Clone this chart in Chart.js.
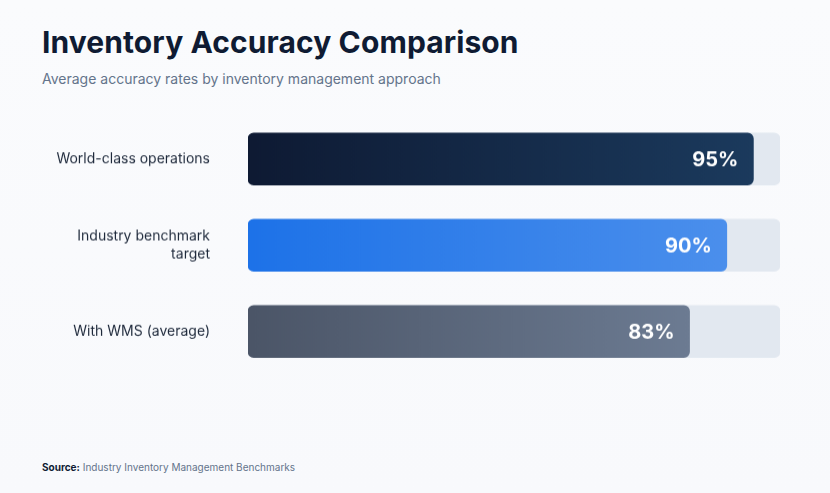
<!DOCTYPE html>
<html>
<head>
<meta charset="utf-8">
<script src="https://cdn.jsdelivr.net/npm/chart.js@4.4.1/dist/chart.umd.min.js"></script>
<style>
  html, body { margin: 0; padding: 0; }
  body {
    width: 830px; height: 493px; overflow: hidden; position: relative;
    background: linear-gradient(180deg, #fafbfd 0%, #f8f9fc 100%);
    font-family: 'Inter', 'Noto Sans', sans-serif;
  }
  h1 {
    position: absolute; left: 42px; top: 24px; margin: 0;
    font-size: 30px; font-weight: 700; color: #0f1b33; letter-spacing: 0.1px;
  }
  .sub {
    position: absolute; left: 42px; top: 70px; margin: 0;
    font-size: 14px; color: #64748b;
  }
  .src {
    position: absolute; left: 42px; top: 461px; margin: 0;
    font-size: 10px; color: #64748b;
  }
  .src b { color: #0f1b33; font-weight: 700; }
  /* the y scale reserves ~47px above and below the plot, so the box is taller */
  #wrap { position: absolute; left: 0; top: 69.25px; width: 830px; height: 351.5px; }
</style>
</head>
<body>
<h1>Inventory Accuracy Comparison</h1>
<p class="sub">Average accuracy rates by inventory management approach</p>
<div id="wrap"><canvas id="barChart"></canvas></div>
<p class="src"><b>Source:</b> Industry Inventory Management Benchmarks</p>

<script>
// ── DATA ──────────────────────────────────────────────────────
const LABELS = [['World-class operations'], ['Industry benchmark', 'target'], ['With WMS (average)']];
const VALUES = [95, 90, 83];
const TRACK  = [100, 100, 100];

// gradient stops per bar (left → right)
const GRADS = [
  ['#0e1a33', '#1b3a5d'],
  ['#1d72e8', '#4b8fec'],
  ['#4b5567', '#6c7b92']
];
const TEXT  = '#1e293b';
const TRACK_COLOR = '#e2e8f0';

// ── VALUE LABELS INSIDE BARS ──────────────────────────────────
const valueLabels = {
  id: 'valueLabels',
  afterDatasetsDraw(chart) {
    const meta = chart.getDatasetMeta(0);
    const ctx = chart.ctx;
    ctx.save();
    ctx.font = "700 20px 'Inter', sans-serif";
    ctx.fillStyle = '#ffffff';
    ctx.textAlign = 'right';
    ctx.textBaseline = 'middle';
    meta.data.forEach((bar, i) => {
      ctx.fillText(VALUES[i] + '%', bar.x - 15, bar.y + 1);
    });
    ctx.restore();
  }
};

function barGradient(context) {
  const chart = context.chart;
  const area = chart.chartArea;
  if (!area) return GRADS[0][0];
  const i = context.dataIndex;
  const end = chart.scales.x.getPixelForValue(VALUES[i]);
  const g = chart.ctx.createLinearGradient(area.left, 0, end, 0);
  g.addColorStop(0, GRADS[i][0]);
  g.addColorStop(1, GRADS[i][1]);
  return g;
}

const ctx = document.getElementById('barChart').getContext('2d');
new Chart(ctx, {
  type: 'bar',
  data: {
    labels: LABELS,
    datasets: [
      {
        label: 'Accuracy',
        data: VALUES,
        backgroundColor: barGradient,
        borderRadius: 6,
        borderSkipped: false,
        barThickness: 52,
        grouped: false,
        order: 1
      },
      {
        label: 'Track',
        data: TRACK,
        backgroundColor: TRACK_COLOR,
        borderRadius: 6,
        borderSkipped: false,
        barThickness: 52,
        grouped: false,
        order: 2
      }
    ]
  },
  options: {
    indexAxis: 'y',
    responsive: true,
    maintainAspectRatio: false,
    animation: false,
    layout: { padding: { top: 0, bottom: 0, right: 50, left: 0 } },
    plugins: {
      legend: { display: false },
      tooltip: { enabled: false }
    },
    scales: {
      x: {
        min: 0, max: 100,
        display: false
      },
      y: {
        grid: { display: false, drawTicks: false },
        border: { display: false },
        afterFit(scale) { scale.width = 248; },
        ticks: {
          padding: 38,
          color: TEXT,
          font: { family: "'Inter', sans-serif", size: 14, lineHeight: 1.25 }
        }
      }
    }
  },
  plugins: [valueLabels]
});
</script>
</body>
</html>
